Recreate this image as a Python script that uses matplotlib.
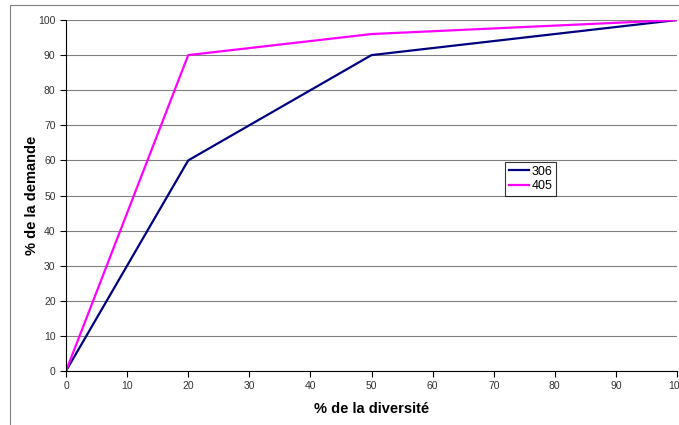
import matplotlib
matplotlib.use("Agg")
import matplotlib.pyplot as plt
from matplotlib.patches import Rectangle

# data
diversite = [0, 20, 50, 100]
demande_306 = [0, 60, 90, 100]
demande_405 = [0, 90, 96, 100]
x_ticks = list(range(0, 101, 10))
y_ticks = list(range(0, 101, 10))

plt.rcParams['font.family'] = ['Liberation Sans', 'DejaVu Sans']

fig = plt.figure(figsize=(6.79, 4.25), dpi=100)
fig.patch.set_facecolor('white')

# outer chart border
fig.patches.append(Rectangle((10 / 679, -0.1), 1.2, (425 - 5) / 425 + 0.1,
                             transform=fig.transFigure, fill=False,
                             edgecolor='#808080', linewidth=0.8))

ax = fig.add_axes([66 / 679, (425 - 371) / 425, (677 - 66) / 679, (371 - 20) / 425])
ax.plot(diversite, demande_306, color='#000080', linewidth=1.6, label='306')
ax.plot(diversite, demande_405, color='#FF00FF', linewidth=1.6, label='405')

ax.set_xlim(0, 100)
ax.set_ylim(0, 100)
ax.set_xticks(x_ticks)
ax.set_yticks(y_ticks)
ax.tick_params(direction='out', length=4, width=0.8, colors='#000000',
               labelsize=7.5, labelcolor='#333333')
ax.yaxis.grid(True, color='#808080', linewidth=0.8)
ax.set_axisbelow(True)

for s in ['top', 'right']:
    ax.spines[s].set_visible(False)
ax.spines['left'].set_color('#000000')
ax.spines['bottom'].set_color('#000000')

ax.set_xlabel('% de la diversité', fontsize=10.5, fontweight='bold')
ax.set_ylabel('% de la demande', fontsize=10.5, fontweight='bold')
ax.xaxis.set_label_coords(0.5, -(409 - 371) / 351, transform=ax.transAxes)
ax.xaxis.label.set_va('center')
ax.yaxis.set_label_coords(-(66 - 32) / 611, 0.5, transform=ax.transAxes)
ax.yaxis.label.set_va('center')

leg = ax.legend(loc='upper left', bbox_to_anchor=((505 - 66) / 611, (371 - 162) / 351),
                fontsize=9, frameon=True, fancybox=False, handlelength=1.6,
                handletextpad=0.2, borderpad=0.3, labelspacing=0.2,
                borderaxespad=0)
leg.get_frame().set_edgecolor('#000000')
leg.get_frame().set_linewidth(0.8)

fig.savefig('out.png', dpi=100)
